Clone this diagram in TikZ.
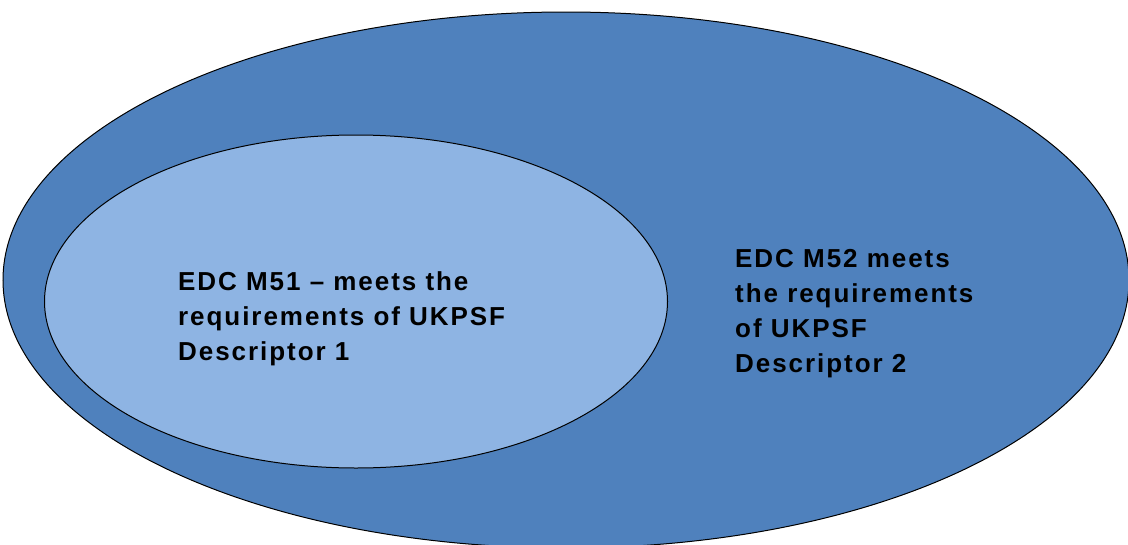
\documentclass[tikz,border=0pt]{standalone}
\usepackage{fontspec}
\setmainfont{Liberation Sans}[LetterSpace=7.5]
\definecolor{outerblue}{HTML}{4F81BD}
\definecolor{innerblue}{HTML}{8EB4E3}
\begin{document}
\begin{tikzpicture}[x=1pt,y=-1pt,
  lbl/.style={font=\fontsize{26}{35}\selectfont\bfseries, align=left, anchor=north west, inner sep=0pt, text=black}]
\useasboundingbox (0,0) rectangle (1128,544);
\clip (0,0) rectangle (1128,544);
\fill[white] (0,0) rectangle (1128,544);
\draw[fill=outerblue, line width=1pt] (566,280) ellipse [x radius=563, y radius=268];
\draw[fill=innerblue, line width=1pt] (356,301.5) ellipse [x radius=311.5, y radius=166.5];
\node[lbl] (d1) at (178,271) {EDC M51 -- meets the\\requirements of UKPSF\\Descriptor 1};
\node[lbl] (d2) at (735,249.5) {EDC M52 meets\\the requirements\\of UKPSF\\Descriptor 2};
\end{tikzpicture}
\end{document}
